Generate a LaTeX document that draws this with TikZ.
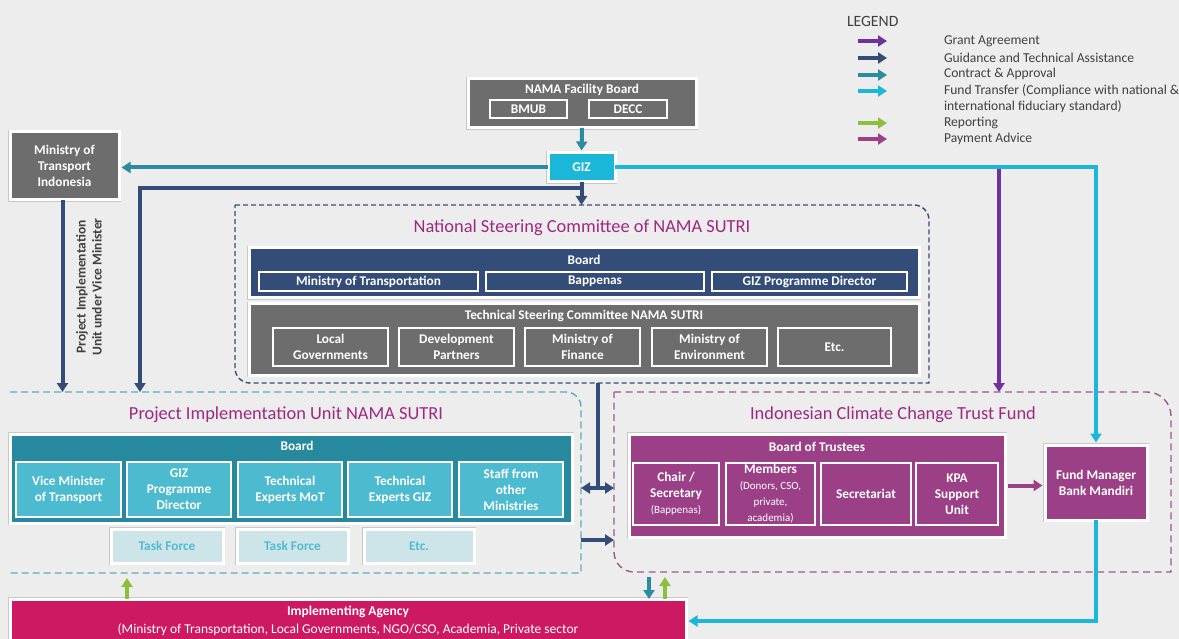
\documentclass[tikz,border=0pt]{standalone}
\usepackage{fontspec}
\setmainfont{Carlito}
\usetikzlibrary{arrows.meta}

\definecolor{paper}{RGB}{237,237,237}
\definecolor{rim}{RGB}{200,200,200}
\definecolor{ctext}{RGB}{64,64,64}
\definecolor{ctitle}{RGB}{158,40,130}
\definecolor{cslate}{RGB}{109,109,109}
\definecolor{cnavy}{RGB}{52,76,120}
\definecolor{cgiz}{RGB}{27,183,216}
\definecolor{cpiu}{RGB}{38,137,158}
\definecolor{cpiucell}{RGB}{76,187,208}
\definecolor{ctask}{RGB}{205,228,232}
\definecolor{ctasktext}{RGB}{82,187,208}
\definecolor{ctrust}{RGB}{155,64,135}
\definecolor{cagency}{RGB}{204,25,97}
\definecolor{cgrant}{RGB}{112,48,160}
\definecolor{ccontract}{RGB}{42,140,160}
\definecolor{creport}{RGB}{141,191,63}
\definecolor{cpiudash}{RGB}{90,172,190}
\definecolor{ctrustdash}{RGB}{155,90,142}

\newcommand{\smallnote}[1]{{\mdseries\fontsize{11}{13}\selectfont #1}}

\begin{document}
\begin{tikzpicture}[x = 1pt, y = -1pt, % pixel grid, y going down
        > = {Triangle[width=11pt, length=9pt]}, % arrow head style
        line join = miter
    ]

    \tikzstyle{every node}=[inner sep = 0pt, outer sep = 0pt, align = center,
    text = white, font = \bfseries\fontsize{13.3}{16}\selectfont]
    \tikzstyle{rimbox}=[anchor = north west, draw = white, line width = 3pt,
    preaction = {draw = rim, line width = 4.5pt}]
    \tikzstyle{cellbox}=[anchor = north west, draw = white, line width = 2.5pt]
    \tikzstyle{area}=[anchor = north west]
    \tikzstyle{head}=[text = ctitle, font = \fontsize{18.4}{20}\selectfont]
    \tikzstyle{legtext}=[anchor = west, align = left, text = ctext,
    font = \fontsize{13.6}{16}\selectfont]
    \tikzstyle{wire}=[line width = 4pt]
    \tikzstyle{grant}=[wire, draw = cgrant]
    \tikzstyle{guide}=[wire, draw = cnavy]
    \tikzstyle{contract}=[wire, draw = ccontract]
    \tikzstyle{fund}=[wire, draw = cgiz]
    \tikzstyle{report}=[wire, draw = creport]
    \tikzstyle{pay}=[wire, draw = ctrust]

    \useasboundingbox (0,0) rectangle (1179,639);
    \fill[paper] (0,0) rectangle (1179,639);

    % legend
    \node[legtext, font = \fontsize{15.7}{16}\selectfont] (legendhead) at (847,21) {LEGEND};
    \draw[grant, ->] (858,41) -- (887,41);
    \draw[guide, ->] (858,58) -- (887,58);
    \draw[contract, ->] (858,75) -- (887,75);
    \draw[fund, ->] (858,91) -- (887,91);
    \draw[report, ->] (858,123) -- (887,123);
    \draw[pay, ->] (858,139) -- (887,139);
    \node[legtext] (lgrant) at (944,41) {Grant Agreement};
    \node[legtext] (lguide) at (944,58) {Guidance and Technical Assistance};
    \node[legtext] (lcontract) at (944,74) {Contract \& Approval};
    \node[legtext] (lfund) at (944,99) {Fund Transfer (Compliance with national \&\\international fiduciary standard)};
    \node[legtext] (lreport) at (944,123) {Reporting};
    \node[legtext] (lpay) at (944,139) {Payment Advice};

    % dashed groups
    \node[area, minimum width = 694pt, minimum height = 178pt] (nsc) at (235,205) {};
    \draw[cnavy, line width = 1.4pt, dash pattern = on 5pt off 3pt]
    (235,205) -- (914,205) arc[start angle = -90, end angle = 0, radius = 15]
    -- (929,383) -- (250,383) arc[start angle = 90, end angle = 180, radius = 15] -- cycle;
    \node[area, minimum width = 571pt, minimum height = 181pt] (piu) at (10,392) {};
    \draw[cpiudash, line width = 1.4pt, dash pattern = on 7pt off 4pt]
    (10,392) -- (566,392) arc[start angle = -90, end angle = 0, radius = 15]
    -- (581,573) -- (10,573);
    \node[area, minimum width = 557pt, minimum height = 180pt] (icctf) at (614,392) {};
    \draw[ctrustdash, line width = 1.4pt, dash pattern = on 7pt off 4.5pt]
    (614,392) -- (1147,392) arc[start angle = -90, end angle = 0, radius = 24]
    -- (1171,572) -- (634,572) arc[start angle = 90, end angle = 180, radius = 20] -- cycle;

    % top
    \node[rimbox, fill = cslate, minimum width = 228pt, minimum height = 49pt] (nfb) at (468,79) {};
    \node (nfbtitle) at (582,90) {NAMA Facility Board};
    \node[cellbox, fill = cslate, minimum width = 77pt, minimum height = 18pt] (bmub) at (490,100) {BMUB};
    \node[cellbox, fill = cslate, minimum width = 78pt, minimum height = 18pt] (decc) at (589,100) {DECC};
    \node[rimbox, fill = cgiz, minimum width = 67pt, minimum height = 29pt] (giz) at (548,153) {GIZ};
    \node[rimbox, fill = cslate, minimum width = 109pt, minimum height = 68pt] (mot) at (10,132)
    {Ministry of\\Transport\\Indonesia};

    % national steering committee
    \node[head] (nsctitle) at (582,228) {National Steering Committee of NAMA SUTRI};
    \node[rimbox, fill = cnavy, minimum width = 670pt, minimum height = 50pt] (nscboard) at (249,248) {};
    \node (nscboardtitle) at (584,260) {Board};
    \node[cellbox, fill = cnavy, minimum width = 219pt, minimum height = 19pt] (mtrans) at (259,272) {Ministry of Transportation};
    \node[cellbox, fill = cnavy, minimum width = 218pt, minimum height = 19pt] (bapp) at (486,272) {Bappenas};
    \node[cellbox, fill = cnavy, minimum width = 195pt, minimum height = 19pt] (gizpd) at (712,272) {GIZ Programme Director};
    \node[rimbox, fill = cslate, minimum width = 670pt, minimum height = 71pt] (tsc) at (249,304) {};
    \node (tsctitle) at (584,316) {Technical Steering Committee NAMA SUTRI};
    \node[cellbox, fill = cslate, minimum width = 115pt, minimum height = 38pt] (locgov) at (273,328) {Local\\Governments};
    \node[cellbox, fill = cslate, minimum width = 115pt, minimum height = 38pt] (devpart) at (399,328) {Development\\Partners};
    \node[cellbox, fill = cslate, minimum width = 115pt, minimum height = 38pt] (minfin) at (525,328) {Ministry of\\Finance};
    \node[cellbox, fill = cslate, minimum width = 115pt, minimum height = 38pt] (minenv) at (652,328) {Ministry of\\Environment};
    \node[cellbox, fill = cslate, minimum width = 113pt, minimum height = 38pt] (tscetc) at (778,328) {Etc.};

    % project implementation unit
    \node[head] (piutitle) at (286,415) {Project Implementation Unit NAMA SUTRI};
    \node[rimbox, fill = cpiu, minimum width = 562pt, minimum height = 89pt] (piuboard) at (10,434) {};
    \node (piuboardtitle) at (297,446) {Board};
    \node[cellbox, fill = cpiucell, minimum width = 105pt, minimum height = 55pt] (vicemin) at (16,462) {Vice Minister\\of Transport};
    \node[cellbox, fill = cpiucell, minimum width = 104pt, minimum height = 55pt] (gizdir) at (127,462) {GIZ\\Programme\\Director};
    \node[cellbox, fill = cpiucell, minimum width = 104pt, minimum height = 55pt] (expmot) at (238,462) {Technical\\Experts MoT};
    \node[cellbox, fill = cpiucell, minimum width = 104pt, minimum height = 55pt] (expgiz) at (348,462) {Technical\\Experts GIZ};
    \node[cellbox, fill = cpiucell, minimum width = 104pt, minimum height = 55pt] (staff) at (459,462) {Staff from\\other\\Ministries};
    \node[rimbox, fill = ctask, text = ctasktext, minimum width = 112pt, minimum height = 34pt] (taskone) at (111,529) {Task Force};
    \node[rimbox, fill = ctask, text = ctasktext, minimum width = 111pt, minimum height = 34pt] (tasktwo) at (237,529) {Task Force};
    \node[rimbox, fill = ctask, text = ctasktext, minimum width = 110pt, minimum height = 34pt] (tasketc) at (364,529) {Etc.};

    % trust fund
    \node[head] (icctftitle) at (893,415) {Indonesian Climate Change Trust Fund};
    \node[rimbox, fill = ctrust, minimum width = 376pt, minimum height = 103pt] (trustees) at (629,434) {};
    \node (trusteestitle) at (817,447) {Board of Trustees};
    \node[cellbox, fill = ctrust, minimum width = 86pt, minimum height = 62pt] (chair) at (633,463)
    {Chair /\\Secretary\\\smallnote{(Bappenas)}};
    \node[cellbox, fill = ctrust, minimum width = 89pt, minimum height = 62pt] (members) at (726,463)
    {Members\\\smallnote{(Donors, CSO,}\\\smallnote{private,}\\\smallnote{academia)}};
    \node[cellbox, fill = ctrust, minimum width = 90pt, minimum height = 62pt] (secret) at (821,463) {Secretariat};
    \node[cellbox, fill = ctrust, minimum width = 82pt, minimum height = 62pt] (kpa) at (916,463) {KPA\\Support\\Unit};
    \node[rimbox, fill = ctrust, minimum width = 102pt, minimum height = 75pt] (fundmgr) at (1045,445)
    {Fund Manager\\Bank Mandiri};

    % implementing agency
    \node[rimbox, fill = cagency, minimum width = 676pt, minimum height = 44pt,
    font = \bfseries\fontsize{13.5}{18}\selectfont] (agency) at (10,599)
    {Implementing Agency\\{\mdseries (Ministry of Transportation, Local Governments, NGO/CSO, Academia, Private sector}};

    % connectors
    \coordinate (grantsplit) at (999,168);
    \coordinate (gizfork) at (582,188);
    \coordinate (piuentry) at (140,392);
    \coordinate (nscexit) at (598,383);
    \coordinate (hub) at (598,488);

    \draw[contract, ->, shorten > = 2.5pt] (nfb.south) -- (giz.north);
    \draw[contract, ->, shorten > = 2.5pt] (giz.west) -- (giz.west -| mot.east);
    \draw[grant, ->] (grantsplit) -- (grantsplit |- icctf.north);
    \draw[fund, ->, shorten > = 2.5pt] (giz.east) -| (fundmgr.north);
    \draw[fund, ->, shorten > = 2.5pt] (fundmgr.south) |- (agency.east);

    \draw[guide, ->] (giz.south) -- (giz.south |- nsc.north);
    \draw[guide, ->] (gizfork) -| (piuentry);
    \draw[guide, ->] ([xshift = -2pt]mot.south) -- ([xshift = -2pt]mot.south |- piu.north);
    \node[rotate = 90, text = ctext, font = \bfseries\fontsize{13.5}{16}\selectfont] (vicenote) at (89,287)
    {Project Implementation\\Unit under Vice Minister};
    \draw[guide] (nscexit) -- (hub);
    \draw[guide, <->] (hub -| piu.east) -- (hub -| icctf.west);
    \draw[guide, ->] (piu.east |- 0,540) -- (icctf.west |- 0,540);

    \draw[pay, ->, shorten < = 2.5pt, shorten > = 2.5pt] (trustees.east) -- (trustees.east -| fundmgr.west);

    \draw[report, ->, shorten > = 5pt] (agency.north -| 127,0) -- (piu.south -| 127,0);
    \draw[report, ->, shorten > = 5pt] (agency.north -| 665,0) -- (icctf.south -| 665,0);
    \draw[contract, ->, shorten < = 5pt] (icctf.south -| 649,0) -- (agency.north -| 649,0);
\end{tikzpicture}
\end{document}
